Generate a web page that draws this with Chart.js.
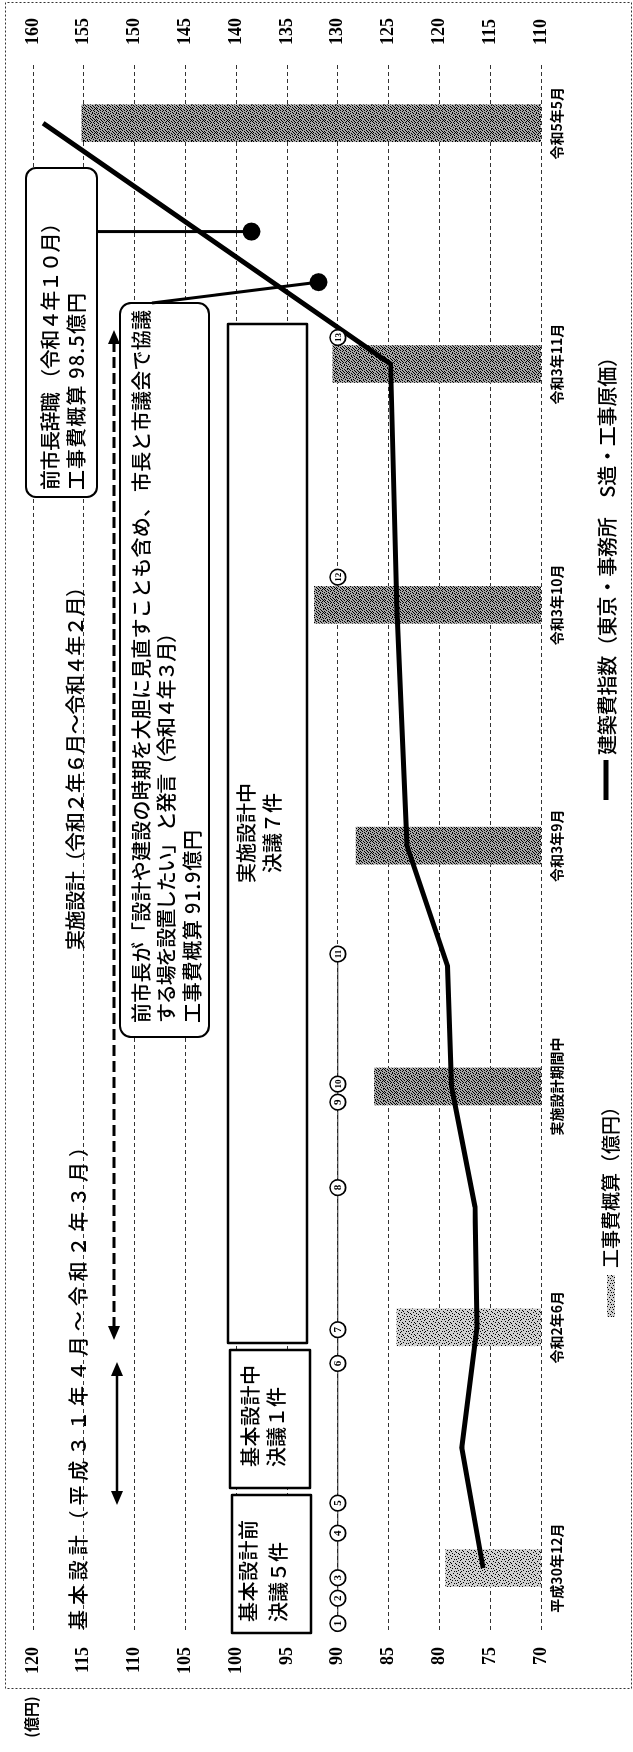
<!DOCTYPE html>
<html lang="ja">
<head>
<meta charset="utf-8">
<title>工事費概算と建築費指数</title>
<script src="https://cdn.jsdelivr.net/npm/chart.js@4.4.1/dist/chart.umd.min.js"></script>
<style>
  html, body { margin: 0; padding: 0; background: #fff; }
  body { width: 633px; height: 1752px; overflow: hidden; position: relative; }
  /* the page is the chart turned a quarter turn to the left */
  #turn { position: absolute; left: 0; top: 0; width: 1752px; height: 633px;
          transform-origin: 0 0; transform: translate(0, 1752px) rotate(-90deg); }
</style>
</head>
<body>
<div id="turn"><canvas id="chart" width="1752" height="633"></canvas></div>
<script>
// time axis categories (index 0..6)
const periods = ['平成30年12月', '令和2年6月', '実施設計期間中', '令和3年9月', '令和3年10月', '令和3年11月', '令和5年5月'];
// 工事費概算 (億円), one bar per period
const estimate = [79.4, 84.2, 86.4, 88.2, 92.3, 90.5, 115.2];
// 建築費指数 (東京・事務所 S造・工事原価), read at half-period steps
const indexAt = [0, 0.5, 1, 1.5, 2, 2.5, 3, 4, 5, 6];
const indexVal = [115.7, 117.8, 116.3, 116.5, 118.8, 119.2, 123.2, 124.2, 124.8, 159.0];
// 工事費概算 quoted in the callouts (令和4年3月, 令和4年10月)
const calloutAt = [5.34, 5.55];
const calloutVal = [91.9, 98.5];
// 決議 1〜13 placed along the time axis, on the 90 line
const resolutions = ['1', '2', '3', '4', '5', '6', '7', '8', '9', '10', '11', '12', '13'];
const resolutionAt = [-0.23, -0.125, -0.04, 0.145, 0.27, 0.85, 0.99, 1.58, 1.935, 2.01, 2.55, 4.115, 5.11];
const resolutionLevel = 90;

const GOTHIC = "'Noto Sans CJK JP', 'Noto Sans', sans-serif";
const SERIF = "'Liberation Serif', 'DejaVu Serif', serif";

// stippled fill like the scanned bars
const DARK = [
  '100100010010', '001001000101', '010000101000', '000110000010',
  '101000010100', '000010100001', '010100001010', '100001000100',
  '001000110001', '010010000100', '100000101010', '001101000001'];
const LIGHT = [
  '100000010000', '000100000010', '010000100000', '000001000100',
  '001000000001', '100000010000', '000010000100', '010000001000',
  '000100100000', '000000000010', '100001000000', '000100001000'];
function stipple(g, base, rows) {
  const c = document.createElement('canvas');
  c.width = rows[0].length; c.height = rows.length;
  const p = c.getContext('2d');
  p.fillStyle = base; p.fillRect(0, 0, c.width, c.height);
  p.fillStyle = '#000';
  rows.forEach((r, y) => { for (let x = 0; x < r.length; x++) if (r[x] === '1') p.fillRect(x, y, 1, 1); });
  return g.createPattern(c, 'repeat');
}

const canvas = document.getElementById('chart');
const g = canvas.getContext('2d');
const darkDots = stipple(g, '#a8a8a8', DARK);
const lightDots = stipple(g, '#d0d0d0', LIGHT);
const barFill = [lightDots, lightDots, darkDots, darkDots, darkDots, darkDots, darkDots];

function box(c, x, y, w, h, r) {
  c.beginPath();
  c.moveTo(x + r, y);
  c.lineTo(x + w - r, y); c.arcTo(x + w, y, x + w, y + r, r);
  c.lineTo(x + w, y + h - r); c.arcTo(x + w, y + h, x + w - r, y + h, r);
  c.lineTo(x + r, y + h); c.arcTo(x, y + h, x, y + h - r, r);
  c.lineTo(x, y + r); c.arcTo(x, y, x + r, y, r);
  c.closePath();
  c.fill(); c.stroke();
}

// draw a string stretched to a given width
function spread(c, str, x, y, w) {
  if (!w) { c.fillText(str, x, y); return; }
  const chars = Array.from(str);
  const widths = chars.map(ch => c.measureText(ch).width);
  const total = widths.reduce((a, b) => a + b, 0);
  const gap = (w - total) / (chars.length - 1);
  let cx = x;
  chars.forEach((ch, i) => { c.fillText(ch, cx, y); cx += widths[i] + gap; });
}

function arrow(c, x1, x2, y, dash) {
  const h = 14, hw = 6;
  c.save();
  c.lineWidth = dash ? 3 : 2.5;
  c.setLineDash(dash || []);
  c.beginPath(); c.moveTo(x1 + h - 2, y); c.lineTo(x2 - h + 2, y); c.stroke();
  c.setLineDash([]);
  c.beginPath(); c.moveTo(x1, y); c.lineTo(x1 + h, y - hw); c.lineTo(x1 + h, y + hw); c.closePath(); c.fill();
  c.beginPath(); c.moveTo(x2, y); c.lineTo(x2 - h, y - hw); c.lineTo(x2 - h, y + hw); c.closePath(); c.fill();
  c.restore();
}

const texts = [
  // [text, x, y, stretch width, size]
  ['基本設計（平成３１年４月〜令和２年３月）', 122, 78, 493, 20],
  ['実施設計（令和２年６月〜令和４年２月）', 802, 75, 373, 20],
  ['前市長辞職 （令和４年１０月）', 1262, 50, 277, 20],
  ['工事費概算 98.5億円', 1262, 76, 197, 20],
  ['前市長が「設計や建設の時期を大胆に見直すことも含め、 市長と市議会で協議', 729, 141, 713, 20],
  ['する場を設置したい」 と発言（令和４年３月）', 729, 166, 400, 20],
  ['工事費概算 91.9億円', 729, 192, 193, 20],
  ['実施設計中', 869, 246, 100, 20],
  ['決議７件', 879, 272, 80, 20],
  ['基本設計中', 285, 250, 102, 20],
  ['決議１件', 285, 276, 0, 20],
  ['基本設計前', 130, 248, 102, 20],
  ['決議５件', 130, 278, 0, 20]
];

const decor = {
  id: 'decor',
  beforeDatasetsDraw(chart) {
    const c = chart.ctx;
    c.save();
    c.fillStyle = '#fff'; c.strokeStyle = '#000';
    c.lineWidth = 2;
    box(c, 1255, 26, 329, 71, 10);
    box(c, 715, 120, 734, 89, 11);
    c.lineWidth = 2.5;
    box(c, 409, 228, 1019, 79, 0.01);
    box(c, 264, 230, 138, 80, 0.01);
    box(c, 119, 232, 138, 79, 0.01);
    c.restore();
  },
  afterDatasetsDraw(chart) {
    const c = chart.ctx, xs = chart.scales.x, yl = chart.scales.y;
    c.save();
    c.strokeStyle = '#000'; c.lineWidth = 3;
    const d1x = xs.getPixelForValue(calloutAt[0]), d1y = yl.getPixelForValue(calloutVal[0]);
    const d2x = xs.getPixelForValue(calloutAt[1]), d2y = yl.getPixelForValue(calloutVal[1]);
    c.beginPath(); c.moveTo(1449, 152); c.lineTo(d1x, d1y); c.stroke();
    c.beginPath(); c.moveTo(d2x, 97); c.lineTo(d2x, d2y); c.stroke();

    // 決議 markers: numbers in circles
    const ry = yl.getPixelForValue(resolutionLevel);
    c.lineWidth = 1; c.strokeStyle = '#222';
    c.beginPath();
    c.moveTo(xs.getPixelForValue(resolutionAt[0]), ry);
    c.lineTo(xs.getPixelForValue(resolutionAt[10]), ry);
    c.stroke();
    c.textAlign = 'center'; c.textBaseline = 'middle';
    resolutions.forEach((s, i) => {
      const px = xs.getPixelForValue(resolutionAt[i]);
      c.fillStyle = '#fff'; c.strokeStyle = '#000'; c.lineWidth = 1.6;
      c.beginPath(); c.arc(px, ry, 7.8, 0, Math.PI * 2); c.fill(); c.stroke();
      c.fillStyle = '#000';
      c.font = 'bold ' + (s.length > 1 ? 9 : 11) + 'px ' + SERIF;
      c.fillText(s, px, ry + 0.5);
    });
    c.restore();
  },
  afterDraw(chart) {
    const c = chart.ctx;
    c.save();
    c.fillStyle = '#000'; c.strokeStyle = '#000';
    c.textBaseline = 'middle'; c.textAlign = 'left';
    texts.forEach(t => {
      c.font = '500 ' + t[4] + 'px ' + GOTHIC;
      spread(c, t[0], t[1], t[2], t[3]);
    });
    arrow(c, 247, 390, 117);
    arrow(c, 412, 1422, 114, [11, 5]);

    // legend
    c.fillStyle = lightDots; c.fillRect(435, 607, 42, 8);
    c.fillStyle = '#000';
    c.font = '500 19px ' + GOTHIC;
    c.fillText('工事費概算（億円）', 484, 611);
    c.strokeStyle = '#000'; c.lineWidth = 5;
    c.beginPath(); c.moveTo(952, 606); c.lineTo(992, 606); c.stroke();
    c.font = '500 20px ' + GOTHIC;
    spread(c, '建築費指数（東京・事務所　S造・工事原価）', 997, 607, 408);

    // unit and frame
    c.font = 'bold 15px ' + GOTHIC; c.textAlign = 'center';
    c.fillText('(億円)', 35, 31);
    c.setLineDash([2, 2]); c.lineWidth = 1; c.strokeStyle = '#333';
    c.strokeRect(63.5, 5.5, 1686, 626);
    c.restore();
  }
};

new Chart(canvas, {
  type: 'bar',
  data: {
    datasets: [
      {
        type: 'line', label: '工事費概算', yAxisID: 'y', order: 0,
        data: calloutAt.map((x, i) => ({ x, y: calloutVal[i] })),
        showLine: false, pointRadius: 9, pointBackgroundColor: '#000', pointBorderWidth: 0
      },
      {
        type: 'line', label: '建築費指数', yAxisID: 'y1', order: 1,
        data: indexAt.map((x, i) => ({ x, y: indexVal[i] })),
        borderColor: '#000', borderWidth: 5, pointRadius: 0, tension: 0
      },
      {
        type: 'bar', label: '工事費概算（億円）', yAxisID: 'y', order: 2,
        data: periods.map((_, i) => ({ x: i, y: estimate[i] })),
        backgroundColor: barFill, borderWidth: 0, barThickness: 37
      }
    ]
  },
  options: {
    responsive: false,
    animation: false,
    devicePixelRatio: 1,
    layout: { padding: { top: 33, left: 0, right: 0, bottom: 0 } },
    plugins: { legend: { display: false }, tooltip: { enabled: false } },
    scales: {
      x: {
        type: 'linear', min: -0.257, max: 6.25, offset: false,
        grid: { display: false, drawTicks: false },
        border: { display: false },
        afterBuildTicks: s => { s.ticks = periods.map((_, i) => ({ value: i })); },
        afterFit: s => { s.height = 92; },
        ticks: {
          autoSkip: false, maxRotation: 0, minRotation: 0, padding: 7, color: '#000',
          font: { family: GOTHIC, weight: 'bold', size: 14 },
          callback: v => periods[v]
        }
      },
      y: {
        position: 'left', min: 70, max: 120,
        grid: { color: '#333', lineWidth: 1, drawTicks: false },
        border: { display: false, dash: [4, 3] },
        afterFit: s => { s.width = 122; },
        ticks: { stepSize: 5, padding: 17, color: '#000', font: { family: SERIF, weight: 'bold', size: 18 } }
      },
      y1: {
        position: 'right', min: 110, max: 160,
        grid: { display: false, drawTicks: false },
        border: { display: false },
        afterFit: s => { s.width = 63; },
        ticks: { stepSize: 5, padding: 18, color: '#000', font: { family: SERIF, weight: 'bold', size: 18 } }
      }
    }
  },
  plugins: [decor]
});
</script>
</body>
</html>
